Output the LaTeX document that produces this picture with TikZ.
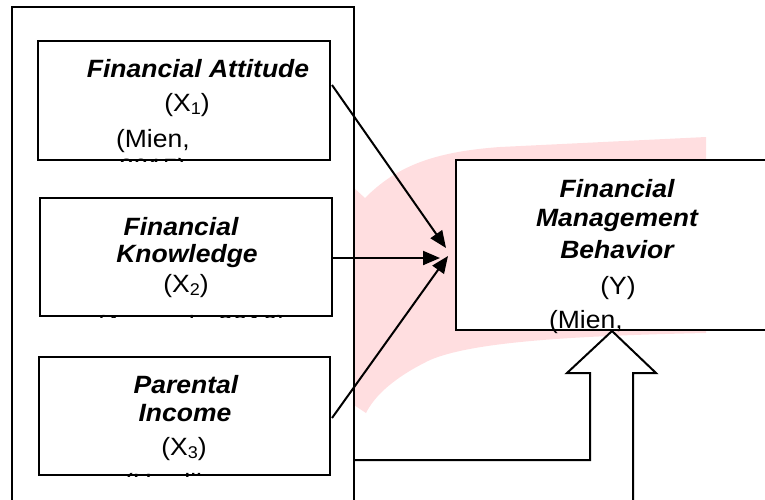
\documentclass[tikz,border=0pt]{standalone}
\usepackage{fontspec}
\setmainfont[FakeStretch=1.06]{Liberation Sans}
\usetikzlibrary{arrows.meta}
\definecolor{wmpink}{RGB}{255,222,224}
\newcommand\subn[1]{\raisebox{-0.15em}{\fontsize{17}{17}\selectfont #1}}
\begin{document}
\begin{tikzpicture}[x=1pt,y=-1pt,line width=2pt,
  box/.style={draw=black,fill=white,line width=2pt,inner sep=0pt},
  rg/.style={anchor=base,inner sep=0pt,font=\fontsize{25}{28}\selectfont},
  bi/.style={anchor=base,inner sep=0pt,font=\fontsize{25}{28}\selectfont\bfseries\itshape},
  arr/.style={-{Triangle[length=17pt,width=14pt]},line width=2pt}]
\useasboundingbox (0,0) rectangle (765,499);
\clip (0,0) rectangle (765,499);
% watermark
\fill[wmpink] (354,188) -- (365,198) .. controls (395,168) and (430,152) .. (500,147)
  -- (706,137) -- (706,333) .. controls (560,336) and (470,343) .. (430,360)
  .. controls (395,377) and (375,395) .. (366,413) -- (354,405) -- cycle;
% outer frame
\draw (12,505) -- (12,7) -- (354,7) -- (354,505);
% boxes
\node[box,minimum width=292,minimum height=119] (b1) at (184,100.5) {};
\node[box,minimum width=292,minimum height=118] (b2) at (186,257) {};
\node[box,minimum width=291,minimum height=118] (b3) at (184.5,416) {};
\node[box,minimum width=334,minimum height=170] (by) at (623,245) {};
% box 1 text
\node[bi] (t1a) at (198,77) {Financial Attitude};
\node[rg] (t1b) at (187,111) {(X\subn{1})};
\node[rg,anchor=base west] (t1c) at (115,147) {(Mien,};
\begin{scope}
\clip (b1.south west) rectangle (b1.north east);
\node[rg,anchor=base west] (t1d) at (118,176) {2015)};
\end{scope}
% box 2 text
\node[bi] (t2a) at (181,235) {Financial};
\node[bi] (t2b) at (187,262) {Knowledge};
\node[rg] (t2c) at (186,292) {(X\subn{2})};
\begin{scope}
\clip (b2.south west) rectangle (b2.north east);
\node[rg,anchor=base west] (t2d) at (95,333) {(Amanah, 2016)};
\end{scope}
% box 3 text
\node[bi] (t3a) at (186,393) {Parental};
\node[bi] (t3b) at (185,421) {Income};
\node[rg] (t3c) at (184,455) {(X\subn{3})};
\begin{scope}
\clip (b3.south west) rectangle (b3.north east);
\node[rg,anchor=base west] (t3d) at (123,491) {(Herdjiono,};
\end{scope}
% Y box text
\node[bi] (tya) at (617,197) {Financial};
\node[bi] (tyb) at (617,226) {Management};
\node[bi] (tyc) at (617,258) {Behavior};
\node[rg] (tyd) at (618,294) {(Y)};
\node[rg,anchor=base west] (tye) at (548,328) {(Mien,};
% arrows
\coordinate (s1) at (332,85);  \coordinate (e1) at (446,248);
\coordinate (s2) at (333,258); \coordinate (e2) at (440,258);
\coordinate (s3) at (332,418); \coordinate (e3) at (448,256);
\draw[arr] (s1) -- (e1);
\draw[arr] (s2) -- (e2);
\draw[arr] (s3) -- (e3);
% big block arrow
\coordinate (ba0) at (354,460);
\coordinate (tip) at (612,331);
\draw[fill=white] (ba0) -- (590,460) -- (590,373) -- (567,373) -- (tip)
  -- (656,373) -- (633,373) -- (633,505);
\end{tikzpicture}
\end{document}
